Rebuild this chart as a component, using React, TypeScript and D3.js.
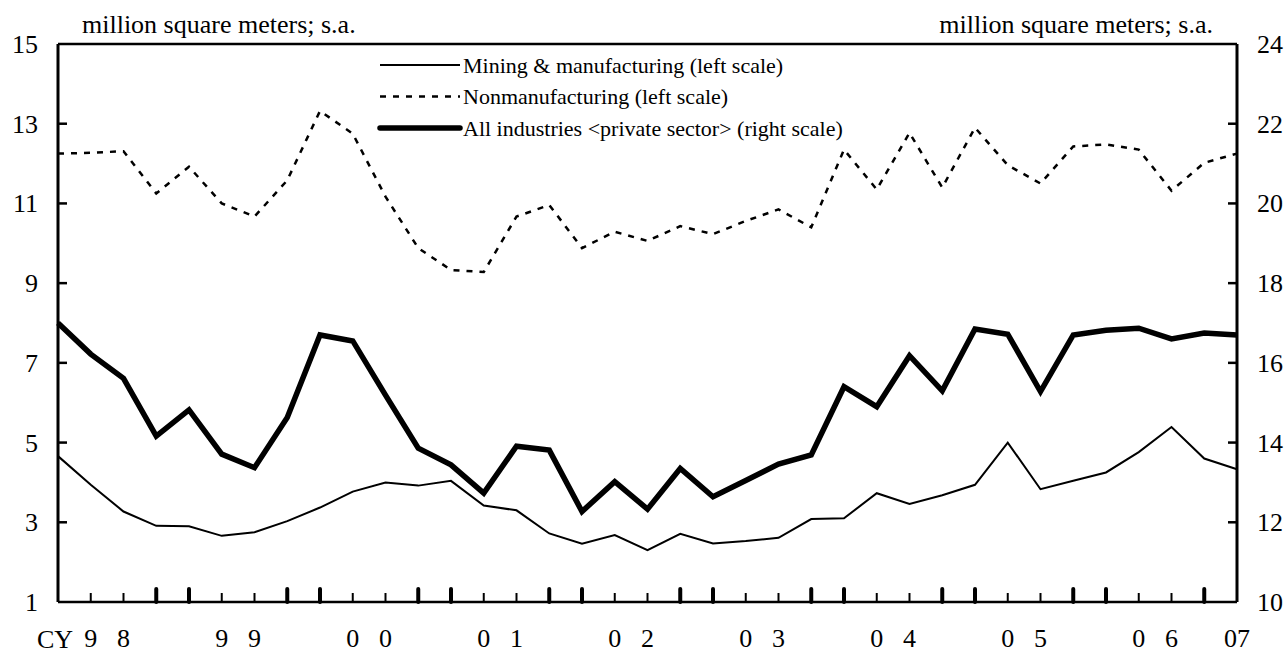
import React from "react";
import * as d3 from "d3";

// Quarterly data, CY1998 Q1 ... CY2007 Q1
const quarters: string[] = [
  "98Q1","98Q2","98Q3","98Q4","99Q1","99Q2","99Q3","99Q4",
  "00Q1","00Q2","00Q3","00Q4","01Q1","01Q2","01Q3","01Q4",
  "02Q1","02Q2","02Q3","02Q4","03Q1","03Q2","03Q3","03Q4",
  "04Q1","04Q2","04Q3","04Q4","05Q1","05Q2","05Q3","05Q4",
  "06Q1","06Q2","06Q3","06Q4","07Q1",
];

const mining: number[] = [
  4.66, 3.94, 3.27, 2.91, 2.90, 2.66, 2.75, 3.03, 3.37, 3.77, 4.00, 3.92, 4.04,
  3.42, 3.30, 2.72, 2.46, 2.68, 2.30, 2.71, 2.47, 2.53, 2.61, 3.08, 3.10,
  3.73, 3.46, 3.68, 3.94, 5.00, 3.83, 4.04, 4.25, 4.76, 5.39, 4.60, 4.33,
];

const nonmanufacturing: number[] = [
  12.25, 12.27, 12.31, 11.25, 11.92, 11.0, 10.67, 11.58, 13.32, 12.75, 11.17, 9.88, 9.33,
  9.28, 10.67, 10.96, 9.88, 10.29, 10.06, 10.43, 10.23, 10.56, 10.85, 10.4, 12.35,
  11.35, 12.77, 11.4, 12.9, 11.96, 11.5, 12.43, 12.48, 12.35, 11.32, 12.02, 12.25,
];

const allIndustries: number[] = [
  17.0, 16.22, 15.61, 14.16, 14.82, 13.71, 13.37, 14.63, 16.7, 16.55, 15.19, 13.86, 13.44,
  12.73, 13.91, 13.81, 12.27, 13.02, 12.33, 13.35, 12.64, 13.05, 13.46, 13.69, 15.40,
  14.90, 16.18, 15.30, 16.85, 16.72, 15.28, 16.7, 16.82, 16.87, 16.6, 16.75, 16.7,
];

const leftTicks: number[] = [1, 3, 5, 7, 9, 11, 13, 15];
const rightTicks: number[] = [10, 12, 14, 16, 18, 20, 22, 24];

// bottom labels: digit placed under quarter index
const xLabels: { i: number; t: string }[] = [
  { i: 1, t: "9" }, { i: 2, t: "8" },
  { i: 5, t: "9" }, { i: 6, t: "9" },
  { i: 9, t: "0" }, { i: 10, t: "0" },
  { i: 13, t: "0" }, { i: 14, t: "1" },
  { i: 17, t: "0" }, { i: 18, t: "2" },
  { i: 21, t: "0" }, { i: 22, t: "3" },
  { i: 25, t: "0" }, { i: 26, t: "4" },
  { i: 29, t: "0" }, { i: 30, t: "5" },
  { i: 33, t: "0" }, { i: 34, t: "6" },
  { i: 36, t: "07" },
];

const legendItems = [
  { label: "Mining & manufacturing (left scale)", w: 2, dash: "" },
  { label: "Nonmanufacturing (left scale)", w: 2.5, dash: "6,7" },
  { label: "All industries <private sector> (right scale)", w: 5.5, dash: "" },
];

const W = 1288, H = 654;
const L = 58, R = 1237, T = 44, B = 602;
const FONT = "'Liberation Serif', 'Times New Roman', serif";

export default function App() {
  const x = d3.scaleLinear().domain([0, quarters.length - 1]).range([L, R]);
  const yL = d3.scaleLinear().domain([1, 15]).range([B, T]);
  const yR = d3.scaleLinear().domain([10, 24]).range([B, T]);

  const lineL = d3.line<number>().x((_, i) => x(i)).y((d) => yL(d));
  const lineR = d3.line<number>().x((_, i) => x(i)).y((d) => yR(d));

  const qTicks = d3.range(1, quarters.length - 1);

  return (
    <svg width={W} height={H} style={{ position: "absolute", left: 0, top: 0, background: "#fff" }}
      fontFamily={FONT}>
      {/* data lines */}
      <path d={lineL(nonmanufacturing) || ""} fill="none" stroke="#000" strokeWidth={2.5} strokeDasharray="6,7" />
      <path d={lineL(mining) || ""} fill="none" stroke="#000" strokeWidth={2} />
      <path d={lineR(allIndustries) || ""} fill="none" stroke="#000" strokeWidth={5.5} strokeLinejoin="miter" />

      {/* frame */}
      <line x1={L} x2={R} y1={T} y2={T} stroke="#000" strokeWidth={2.5} />
      <line x1={L} x2={R} y1={B} y2={B} stroke="#000" strokeWidth={2.5} />
      <line x1={L} x2={L} y1={T} y2={B} stroke="#000" strokeWidth={3} />
      <line x1={R} x2={R} y1={T} y2={B} stroke="#000" strokeWidth={3} />

      {/* left ticks & labels */}
      {leftTicks.map((v) => (
        <g key={"l" + v}>
          {v !== 1 && v !== 15 && (
            <line x1={L} x2={L + 9} y1={yL(v)} y2={yL(v)} stroke="#000" strokeWidth={2.5} />
          )}
          <text x={38} y={yL(v) + 9} fontSize={26} textAnchor="end">{v}</text>
        </g>
      ))}
      {/* right ticks & labels */}
      {rightTicks.map((v) => (
        <g key={"r" + v}>
          {v !== 10 && v !== 24 && (
            <line x1={R - 9} x2={R} y1={yR(v)} y2={yR(v)} stroke="#000" strokeWidth={2.5} />
          )}
          <text x={1257} y={yR(v) + 9} fontSize={26} textAnchor="start">{v}</text>
        </g>
      ))}

      {/* bottom ticks */}
      {qTicks.map((i) => {
        const thick = (i - 1) % 4 >= 2;
        return (
          <line key={"q" + i} x1={x(i)} x2={x(i)} y1={B} y2={B - (thick ? 13 : 9)}
            stroke="#000" strokeWidth={thick ? 4 : 2} strokeLinecap={thick ? "round" : "butt"} />
        );
      })}

      {/* bottom labels */}
      <text x={73} y={648} fontSize={26} textAnchor="end">CY</text>
      {xLabels.map((d) => (
        <text key={"x" + d.i} x={x(d.i)} y={647} fontSize={26} textAnchor="middle">{d.t}</text>
      ))}

      {/* unit labels */}
      <text x={82} y={33} fontSize={26} textAnchor="start">million square meters; s.a.</text>
      <text x={1213} y={33} fontSize={26} textAnchor="end">million square meters; s.a.</text>

      {/* legend */}
      {legendItems.map((it, k) => {
        const ly = 65 + k * 31.5;
        return (
          <g key={"lg" + k}>
            <line x1={380} x2={460} y1={ly} y2={ly} stroke="#000" strokeWidth={it.w}
              strokeDasharray={it.dash || undefined} strokeLinecap={k === 2 ? "round" : "butt"} />
            <text x={463} y={ly + 7.5} fontSize={22}>{it.label}</text>
          </g>
        );
      })}
    </svg>
  );
}
